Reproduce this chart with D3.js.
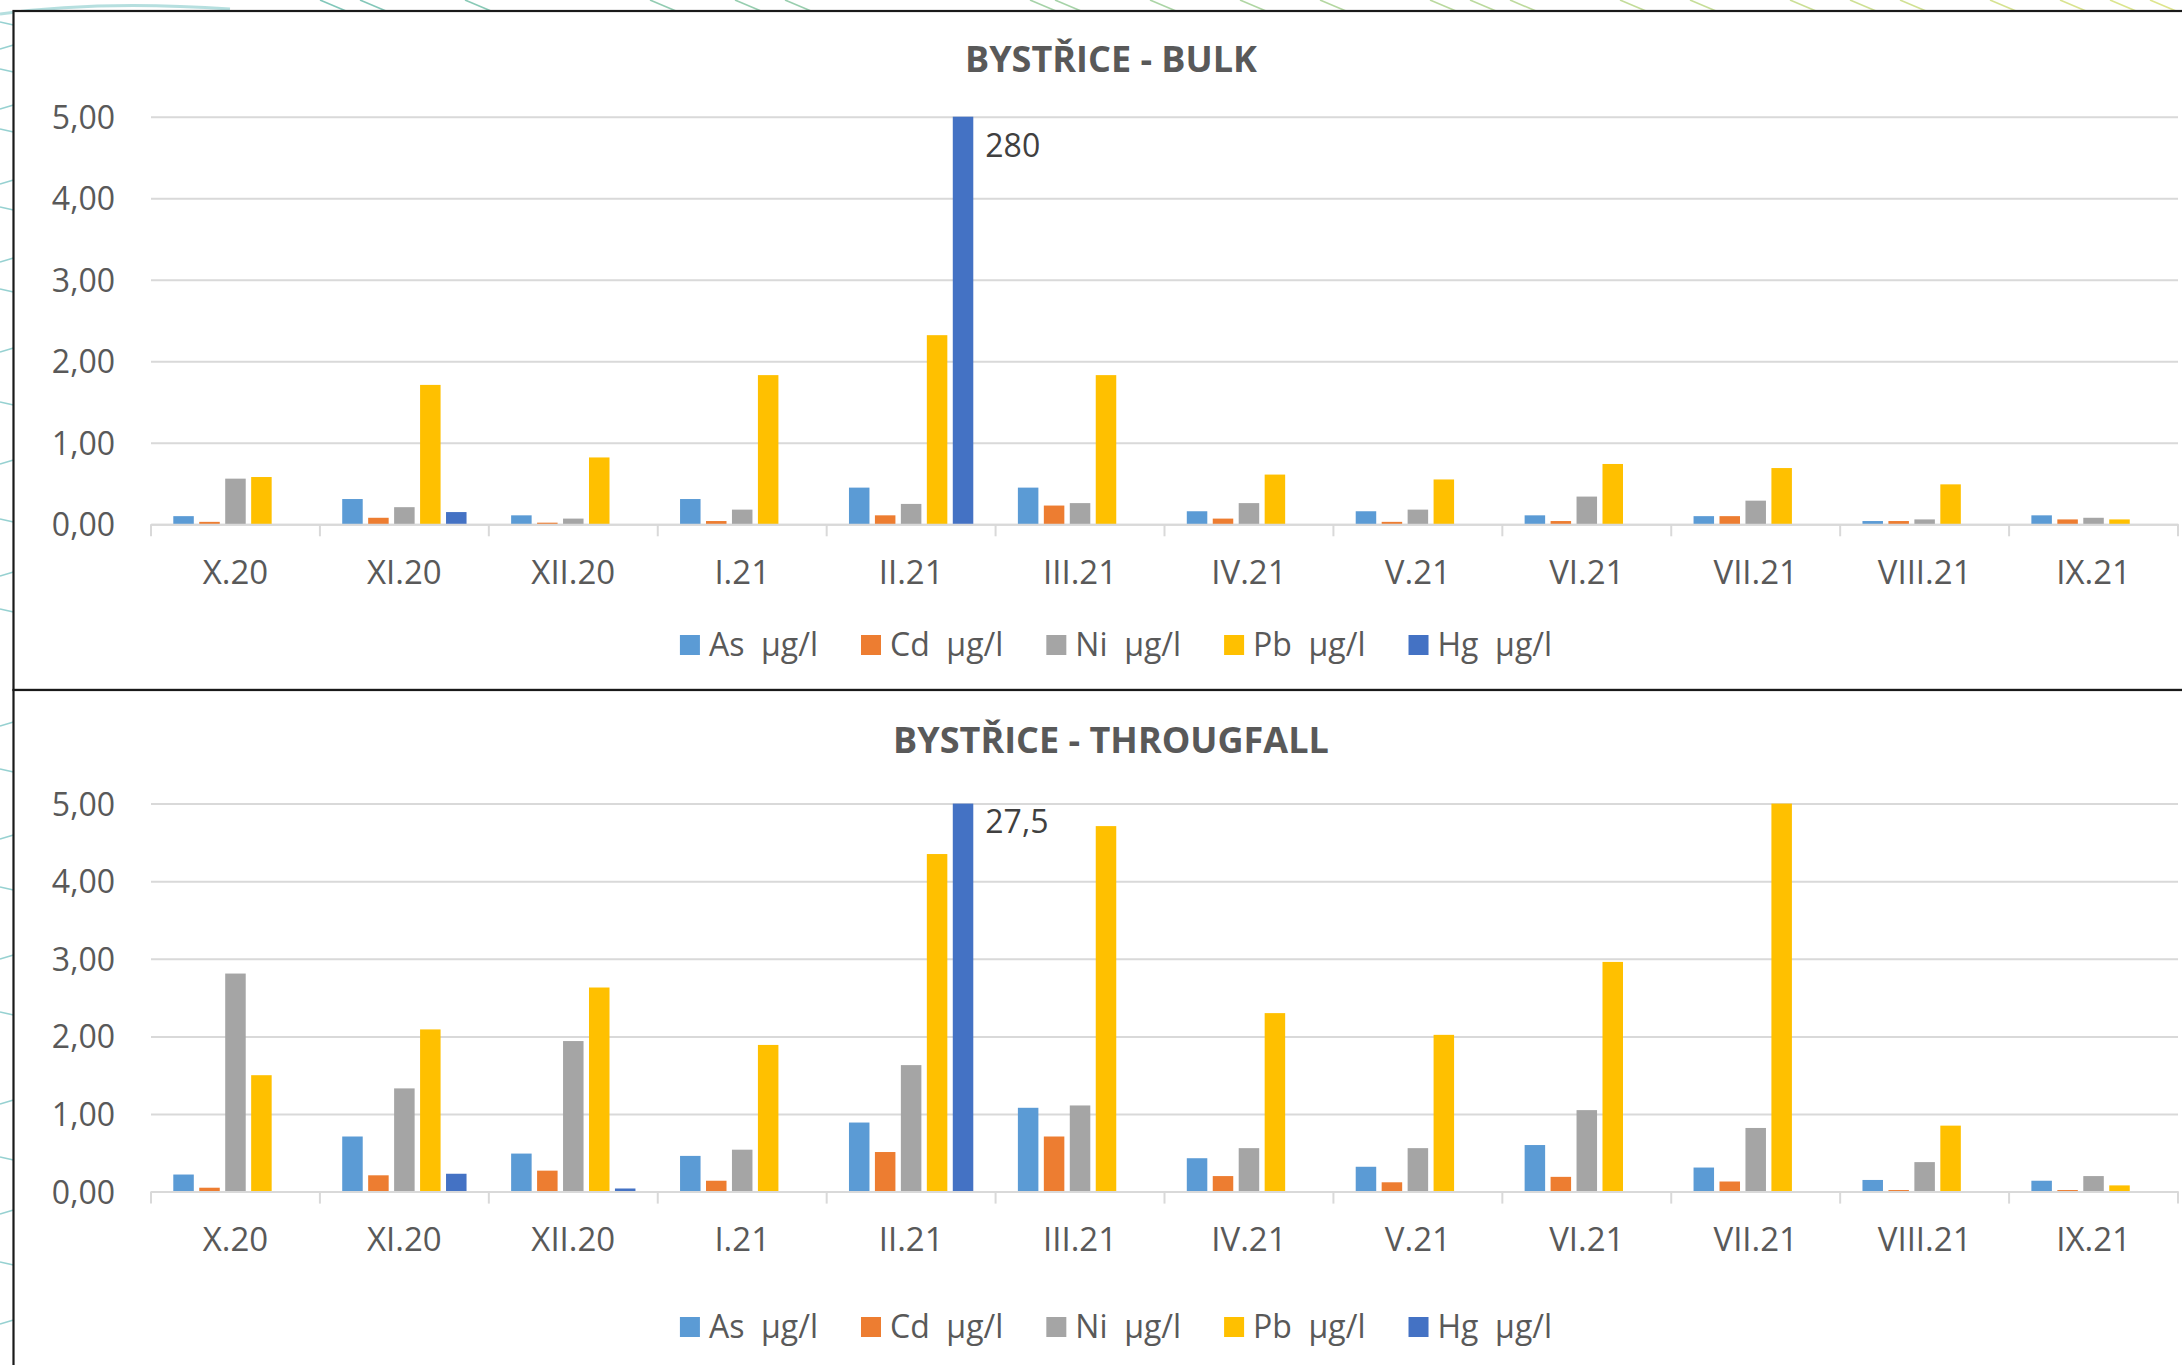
<!DOCTYPE html>
<html>
<head>
<meta charset="utf-8">
<script src="https://cdn.jsdelivr.net/npm/d3@7"></script>
<style>
  html, body { margin: 0; padding: 0; background: #ffffff; }
  svg { display: block; }
  text { font-family: "Open Sans", "Noto Sans", sans-serif; }
</style>
</head>
<body>
<script>
// ---------------- DATA ----------------
const categories = ["X.20","XI.20","XII.20","I.21","II.21","III.21","IV.21","V.21","VI.21","VII.21","VIII.21","IX.21"];
const seriesNames = ["As  µg/l","Cd  µg/l","Ni  µg/l","Pb  µg/l","Hg  µg/l"];
const seriesColors = ["#5B9BD5","#ED7D31","#A5A5A5","#FFC000","#4472C4"];
const yTicks = [0,1,2,3,4,5];

// BYSTŘICE - BULK
const bulkAs = [0.10,0.31,0.11,0.31,0.45,0.45,0.16,0.16,0.11,0.10,0.04,0.11];
const bulkCd = [0.03,0.08,0.02,0.04,0.11,0.23,0.07,0.03,0.04,0.10,0.04,0.06];
const bulkNi = [0.56,0.21,0.07,0.18,0.25,0.26,0.26,0.18,0.34,0.29,0.06,0.08];
const bulkPb = [0.58,1.71,0.82,1.83,2.32,1.83,0.61,0.55,0.74,0.69,0.49,0.06];
const bulkHg = [0,0.15,0,0,280,0,0,0,0,0,0,0];

// BYSTŘICE - THROUGFALL
const thrAs = [0.22,0.71,0.49,0.46,0.89,1.08,0.43,0.32,0.60,0.31,0.15,0.14];
const thrCd = [0.05,0.21,0.27,0.14,0.51,0.71,0.20,0.12,0.19,0.13,0.02,0.02];
const thrNi = [2.81,1.33,1.94,0.54,1.63,1.11,0.56,0.56,1.05,0.82,0.38,0.20];
const thrPb = [1.50,2.09,2.63,1.89,4.35,4.71,2.30,2.02,2.96,5.00,0.85,0.08];
const thrHg = [0,0.23,0.04,0,27.5,0,0,0,0,0,0,0];

const charts = [
  { title: "BYSTŘICE - BULK", series: [bulkAs,bulkCd,bulkNi,bulkPb,bulkHg],
    box: [11, 690], titleBase: 72, yTop: 116.7, yBottom: 524.3, xLabBase: 584, legBase: 656, labelDy: 40 },
  { title: "BYSTŘICE - THROUGFALL", series: [thrAs,thrCd,thrNi,thrPb,thrHg],
    box: [690, 1400], titleBase: 753, yTop: 803.6, yBottom: 1191.6, xLabBase: 1251, legBase: 1338, labelDy: 29 }
];

// ---------------- LAYOUT ----------------
const W = 2182, H = 1365;
const plotLeft = 151, plotRight = 2178, boxLeft = 13.5;
const locale = d3.formatLocale({decimal: ",", thousands: " ", grouping: [3], currency: ["", ""]});
const fmtTick = locale.format(".2f");
const fmtLabel = locale.format("~g");
const yMax = 5;

const svg = d3.select("body").append("svg").attr("width", W).attr("height", H);

// decorative background strips (outside chart box)
const deco = svg.append("g");
const leftDecoY = [25,45,72,105,132,180,210,258,292,348,405,460,522,572,612,722,772,835,890,955,1015,1100,1160,1210,1265,1320];
leftDecoY.forEach((y, i) => {
  deco.append("line").attr("x1", 0).attr("y1", y + (i % 2 ? 4 : -3)).attr("x2", boxLeft).attr("y2", y)
    .attr("stroke", "#7cc6c6").attr("stroke-width", 1.6).attr("opacity", 0.8);
});
const topDecoX = [320,360,465,650,735,785,1030,1055,1150,1240,1320,1430,1470,1510,1620,1690,1790,1850,1900,1990,2060,2110,2150];
const decoColor = d3.scaleLinear().domain([0, 2182]).range(["#4fb3b3", "#d8e070"]);
topDecoX.forEach(x => {
  deco.append("line").attr("x1", x).attr("y1", 0).attr("x2", x + 26).attr("y2", 11)
    .attr("stroke", decoColor(x)).attr("stroke-width", 1.6).attr("opacity", 0.8);
});
deco.append("path").attr("d", "M0,14 Q100,0 230,9").attr("fill", "none")
  .attr("stroke", "#6cc0c0").attr("stroke-width", 3).attr("opacity", 0.5);

const x0 = d3.scaleBand().domain(categories).range([plotLeft, plotRight]).padding(0);
const bw = x0.bandwidth();
const x1 = d3.scaleBand().domain(seriesNames).range([bw * 0.132, bw * 0.868]).paddingInner(0.21).paddingOuter(0);

charts.forEach(ch => {
  const g = svg.append("g");
  // chart box
  g.append("rect").attr("x", boxLeft).attr("y", ch.box[0]).attr("width", W + 20).attr("height", ch.box[1] - ch.box[0])
    .attr("fill", "#ffffff").attr("stroke", "#1a1a1a").attr("stroke-width", 2.2);

  const y = d3.scaleLinear().domain([0, yMax]).range([ch.yBottom, ch.yTop]).clamp(true);

  // title
  g.append("text").attr("x", 1111).attr("y", ch.titleBase).attr("text-anchor", "middle")
    .attr("font-size", 36).attr("font-weight", 700).attr("fill", "#595959").text(ch.title);

  // gridlines + y labels
  const yAxis = d3.axisLeft(y).tickValues(yTicks).tickFormat(fmtTick).tickSize(-(plotRight - plotLeft)).tickPadding(36);
  const ya = g.append("g").attr("transform", `translate(${plotLeft},0)`).call(yAxis);
  ya.select(".domain").remove();
  ya.selectAll(".tick line").attr("stroke", "#d9d9d9").attr("stroke-width", 2);
  ya.selectAll(".tick text").attr("font-size", 32).attr("fill", "#595959")
    .attr("font-family", "'Open Sans', sans-serif").attr("dy", "0.36em");

  // bars
  ch.series.forEach((vals, si) => {
    g.append("g").selectAll("rect").data(vals.map((v, ci) => ({v, c: categories[ci]})))
      .join("rect")
      .attr("x", d => x0(d.c) + x1(seriesNames[si]))
      .attr("width", x1.bandwidth())
      .attr("y", d => y(d.v))
      .attr("height", d => y(0) - y(d.v))
      .attr("fill", seriesColors[si]);
    // labels for values beyond axis max
    vals.forEach((v, ci) => {
      if (v > yMax) {
        g.append("text")
          .attr("x", x0(categories[ci]) + x1(seriesNames[si]) + x1.bandwidth() + 12)
          .attr("y", y(yMax) + ch.labelDy)
          .attr("font-size", 32).attr("fill", "#404040").text(fmtLabel(v));
      }
    });
  });

  // x axis
  const xAxis = d3.axisBottom(x0).tickSize(0).tickPadding(0);
  const xa = g.append("g").attr("transform", `translate(0,${ch.yBottom})`).call(xAxis);
  xa.select(".domain").attr("stroke", "#d9d9d9").attr("stroke-width", 2);
  xa.selectAll(".tick text").attr("font-size", 33).attr("fill", "#595959")
    .attr("font-family", "'Open Sans', sans-serif")
    .attr("y", ch.xLabBase - ch.yBottom).attr("dy", 0);
  // category boundary ticks
  const bounds = categories.map(c => x0(c)).concat([plotRight]);
  g.append("g").selectAll("line").data(bounds).join("line")
    .attr("x1", d => d).attr("x2", d => d)
    .attr("y1", ch.yBottom).attr("y2", ch.yBottom + 12)
    .attr("stroke", "#d9d9d9").attr("stroke-width", 2);

  // legend
  const leg = g.append("g");
  const items = seriesNames.map((name, i) => {
    const it = leg.append("g");
    it.append("rect").attr("width", 20).attr("height", 20).attr("y", ch.legBase - 21).attr("fill", seriesColors[i]);
    const t = it.append("text").attr("x", 29).attr("y", ch.legBase).attr("font-size", 32)
      .attr("fill", "#595959").style("white-space", "pre").text(name);
    return {it, w: 29 + t.node().getComputedTextLength()};
  });
  const gap = 43;
  const total = d3.sum(items, d => d.w) + gap * (items.length - 1);
  let cx = 1116 - total / 2;
  items.forEach(d => { d.it.attr("transform", `translate(${cx},0)`); cx += d.w + gap; });
});
</script>
</body>
</html>
